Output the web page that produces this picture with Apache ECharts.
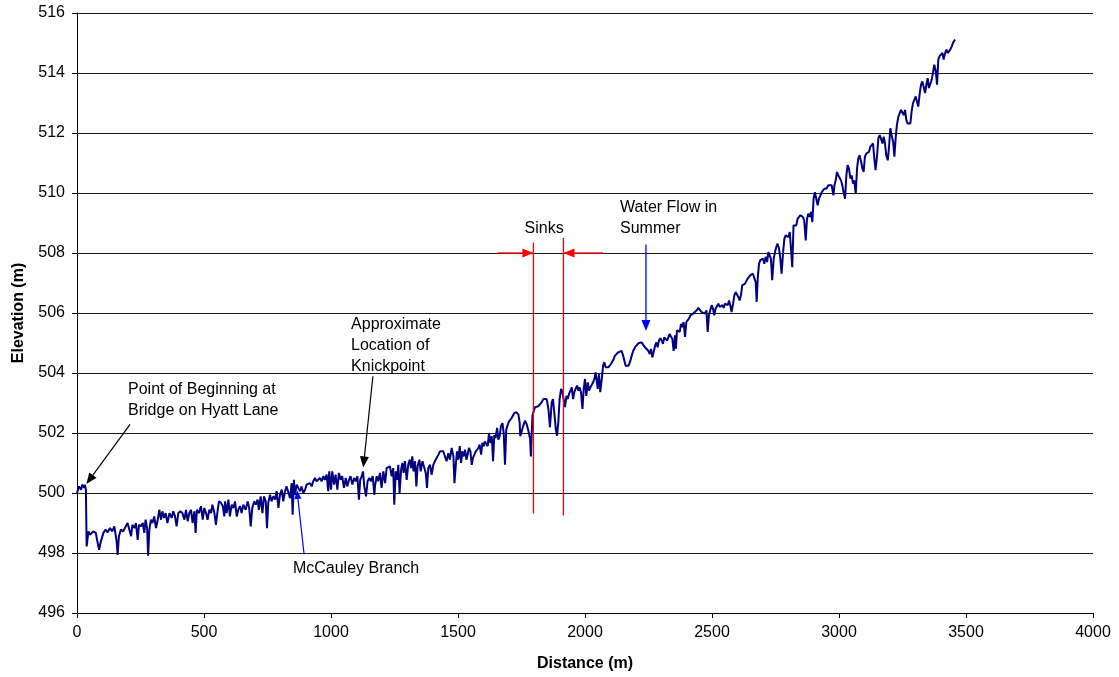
<!DOCTYPE html>
<html>
<head>
<meta charset="utf-8">
<script src="https://cdn.jsdelivr.net/npm/echarts@6/dist/echarts.min.js"></script>
<style>
html,body{margin:0;padding:0;background:#fff;}
#chart{width:1119px;height:677px;}
</style>
</head>
<body>
<div id="chart"></div>
<script>
// Stream profile: [distance (m), elevation (m)]
var profileA = [[0,500.00],[8,500.22],[16,500.11],[21,500.28],[28,500.17],[31,500.28],[35,500.11],[38,498.22],[45,498.72],[51,498.61],[64,498.72],[74,498.67],[79,498.44],[87,498.11],[94,498.39],[104,498.67],[113,498.78],[121,498.69],[130,498.83],[139,498.72],[147,498.89],[156,498.39],[160,497.94],[165,498.56],[173,498.78],[182,498.72],[192,498.89],[199,499.00],[205,499.06],[213,498.56],[218,498.94],[226,498.83],[232,499.00],[239,498.44],[244,498.94],[252,498.89],[259,499.00],[265,498.67],[270,499.11],[276,498.83],[280,497.91],[285,498.78],[291,499.11],[297,499.00],[304,499.22],[311,498.83],[318,499.11],[324,499.44],[331,499.11],[336,499.39],[343,499.17],[349,499.33],[356,499.00],[364,499.33],[373,499.17],[379,499.39],[386,499.22],[392,498.89],[399,499.33],[407,499.39],[415,499.33],[423,499.11],[429,499.44],[436,499.06],[442,499.33],[449,499.44],[455,499.00],[462,499.39],[467,498.67],[472,499.44],[480,499.33],[488,499.56],[495,499.11],[501,499.50],[508,499.33],[514,499.11],[521,499.44],[528,499.33],[533,499.61],[541,499.33],[547,498.94],[554,499.44],[559,499.72],[567,499.67],[574,499.56],[580,499.22]];
var profileB = [[583,499.72],[589,499.33],[596,499.78],[602,499.22],[609,499.61],[616,499.50],[622,499.72],[629,499.22],[635,499.44],[642,499.56],[648,499.33],[655,499.61],[664,499.44],[672,499.72],[678,499.50],[684,498.89],[690,499.50],[698,499.72],[704,499.61],[711,499.78],[716,499.44],[723,499.89],[730,499.33],[736,499.89],[743,499.72],[748,498.83],[753,499.67],[760,499.94],[766,499.72],[773,499.89],[780,499.78],[786,500.06],[793,499.50],[799,499.94],[806,500.11],[812,499.72],[819,500.06],[825,500.22],[832,500.17],[839,499.83],[845,500.33],[849,499.28],[854,500.44],[858,499.94],[865,500.28],[871,500.17],[878,500.06],[884,500.22],[891,500.00],[898,500.11],[904,500.28],[911,500.22],[917,500.33],[924,500.22],[930,500.39],[937,500.50],[943,500.39],[950,500.44],[957,500.50],[963,500.39],[970,500.56],[976,500.44],[983,500.61],[989,500.06],[993,500.72],[1000,500.11],[1005,500.72],[1012,500.28],[1018,500.61],[1025,500.11],[1031,500.67],[1038,500.44],[1044,500.56],[1051,500.17],[1058,500.50],[1064,500.22],[1071,500.44],[1077,500.56],[1084,500.28],[1091,500.50],[1097,500.39],[1104,500.56],[1110,499.78],[1115,500.44],[1121,500.56],[1126,500.72],[1131,500.22],[1138,499.89],[1144,500.39],[1151,500.50],[1157,500.39],[1164,500.56],[1171,499.94]];
var profileC = [[1173,500.22],[1180,500.56],[1186,500.39],[1193,500.67],[1199,500.17],[1206,500.72],[1213,500.33],[1219,500.83],[1226,500.78],[1232,500.89],[1239,500.56],[1245,500.83],[1249,499.61],[1255,500.72],[1260,500.44],[1265,500.94],[1270,500.00],[1276,500.78],[1281,501.00],[1286,500.67],[1291,501.06],[1298,500.44],[1304,500.94],[1310,501.11],[1315,500.83],[1320,501.22],[1325,500.72],[1331,501.06],[1336,500.22],[1341,500.89],[1348,501.11],[1353,500.72],[1360,501.06],[1366,501.00],[1373,500.67],[1378,500.17],[1383,500.83],[1390,500.94],[1396,500.61],[1403,500.94],[1409,501.06],[1416,501.11],[1423,501.28],[1429,501.39],[1436,501.44],[1442,501.39],[1449,501.33],[1455,501.06],[1462,501.33],[1468,501.11],[1475,501.50],[1482,501.22],[1486,500.33],[1491,500.89],[1496,501.39],[1501,501.11],[1507,501.56],[1512,501.00],[1517,501.39],[1522,501.22],[1528,501.44],[1533,501.11],[1538,501.28],[1543,501.50],[1549,501.39],[1554,500.94],[1559,501.17],[1564,501.11],[1570,501.39],[1575,501.33],[1580,501.50],[1585,501.61],[1591,501.28],[1596,501.67],[1601,501.56],[1606,501.72],[1612,501.78],[1617,501.56],[1622,502.00],[1627,501.67],[1633,501.89],[1638,501.06],[1643,501.94],[1648,501.83],[1654,502.17],[1659,501.78],[1664,501.89],[1669,502.22],[1675,502.33],[1680,502.00],[1685,500.94],[1690,502.11],[1696,502.28],[1701,502.39],[1706,502.33],[1711,502.50],[1716,502.56],[1722,502.67],[1730,502.69],[1738,502.61],[1743,502.33],[1745,501.89],[1751,501.83],[1756,502.22],[1761,502.28]];
var profileD = [[1764,502.41],[1770,502.30],[1777,502.08],[1784,501.80],[1787,501.22],[1793,502.58],[1798,502.58],[1803,502.86],[1810,502.82],[1816,502.89],[1823,502.86],[1829,503.02],[1836,503.13],[1843,503.19],[1849,503.13],[1856,502.80],[1862,502.19],[1869,503.02],[1874,503.13],[1879,502.69],[1885,502.13],[1890,501.91],[1895,502.36],[1900,503.13],[1906,503.47],[1911,503.36],[1916,503.30],[1921,502.86],[1927,503.24],[1932,503.13],[1937,503.30],[1942,503.24],[1948,503.52],[1953,503.13],[1958,503.36],[1963,503.47],[1969,503.58],[1974,503.41],[1979,503.52],[1984,503.36],[1990,502.80],[1995,503.47],[2000,503.80],[2005,503.24],[2011,503.69],[2016,503.41],[2021,503.52],[2026,503.47],[2032,503.69],[2037,503.80],[2042,504.02],[2046,504.08],[2050,503.47],[2055,503.97],[2060,503.36],[2066,503.80],[2071,504.24],[2076,504.36],[2081,504.19],[2087,504.13],[2092,504.19],[2097,504.24],[2102,504.30],[2108,504.36],[2113,504.47],[2118,504.58],[2125,504.63],[2131,504.69],[2138,504.71],[2144,504.74],[2150,504.58],[2155,504.41],[2160,504.24],[2165,504.19],[2171,504.24],[2177,504.36],[2184,504.58],[2190,504.74],[2197,504.86],[2203,504.91],[2210,504.99],[2217,505.04],[2223,505.02],[2230,504.93],[2236,504.86],[2243,504.80],[2249,504.74],[2255,504.63],[2260,504.80],[2265,504.52],[2270,504.69],[2276,504.91],[2281,505.02],[2286,504.86],[2291,505.08],[2297,505.16],[2302,505.08],[2307,504.97],[2312,505.19],[2318,505.24],[2323,505.08],[2328,505.19],[2333,505.30],[2339,505.24],[2344,505.13],[2349,504.74],[2352,504.91]];
var profileE = [[2354,505.26],[2358,504.81],[2362,505.42],[2367,505.48],[2373,505.37],[2378,505.64],[2383,505.53],[2388,505.70],[2394,505.20],[2399,505.70],[2404,505.64],[2409,505.81],[2415,505.92],[2420,505.87],[2426,505.98],[2433,506.03],[2440,506.09],[2446,506.17],[2453,506.12],[2459,506.03],[2466,506.06],[2472,505.98],[2478,506.09],[2483,505.37],[2488,505.92],[2493,506.09],[2499,506.26],[2504,506.14],[2509,505.92],[2514,506.14],[2520,506.20],[2525,506.31],[2530,506.20],[2535,506.14],[2541,506.26],[2546,506.17],[2551,506.31],[2556,506.37],[2562,506.26],[2567,506.42],[2572,506.26],[2577,506.03],[2583,506.31],[2588,506.59],[2593,506.70],[2598,506.64],[2604,506.53],[2609,506.42],[2614,506.59],[2619,506.92],[2625,506.87],[2630,506.98],[2635,506.92],[2640,507.14],[2646,507.20],[2651,507.26],[2656,507.20],[2661,507.31],[2667,507.26],[2672,507.03],[2676,506.37],[2680,507.14],[2685,507.64],[2690,507.76],[2696,507.70],[2701,507.81],[2706,507.64],[2711,507.87],[2717,507.70],[2722,508.03],[2727,507.98],[2732,507.81],[2737,507.09],[2743,507.81],[2748,508.03],[2753,508.20],[2758,508.31],[2764,508.14],[2769,507.81],[2774,507.31],[2780,508.03],[2785,508.48],[2790,508.59],[2795,508.64],[2801,508.53],[2806,508.70],[2811,508.14],[2816,507.53],[2821,508.92],[2827,508.98],[2832,508.92],[2837,509.14],[2842,509.09],[2848,509.26],[2853,509.31],[2858,509.20],[2863,509.09],[2869,508.42],[2874,509.14],[2879,509.31],[2884,509.20],[2890,509.37],[2895,509.03],[2900,509.81],[2905,510.03],[2911,509.98],[2916,509.59],[2921,509.81],[2927,509.92],[2932,510.03],[2937,510.09],[2942,510.14]];
var profileF = [[2945,510.09],[2951,510.15],[2958,510.26],[2965,510.31],[2971,510.26],[2978,509.92],[2982,510.26],[2987,510.42],[2992,510.70],[2997,510.59],[3003,510.54],[3008,510.42],[3013,510.26],[3018,510.03],[3024,509.81],[3029,510.59],[3034,510.93],[3039,510.82],[3045,510.48],[3050,510.59],[3055,510.31],[3060,510.42],[3066,509.98],[3071,510.82],[3076,511.15],[3081,511.26],[3087,511.04],[3092,510.82],[3097,510.70],[3102,511.21],[3108,511.32],[3113,511.26],[3118,511.37],[3123,511.54],[3129,511.60],[3134,511.65],[3139,511.15],[3144,510.76],[3150,511.26],[3155,511.82],[3160,511.93],[3165,511.82],[3171,511.65],[3176,511.88],[3181,511.65],[3186,511.26],[3192,511.09],[3197,511.54],[3202,512.16],[3207,511.93],[3213,511.71],[3218,511.21],[3223,511.82],[3228,512.27],[3234,512.55],[3239,512.66],[3244,512.77],[3249,512.72],[3255,512.60],[3260,512.77],[3265,512.44],[3270,512.32],[3276,512.38],[3281,512.32],[3286,512.72],[3291,512.99],[3297,513.11],[3302,513.22],[3307,513.05],[3312,512.88],[3318,513.33],[3323,513.61],[3328,513.72],[3333,513.55],[3339,513.33],[3344,513.61],[3349,513.83],[3354,513.50],[3360,513.44],[3365,513.78],[3370,514.00],[3375,514.28],[3381,514.06],[3386,513.61],[3391,514.45],[3396,514.56],[3402,514.61],[3407,514.67],[3412,514.45],[3417,514.64],[3423,514.78],[3428,514.67],[3433,514.61],[3438,514.78],[3444,514.89],[3449,515.01],[3454,515.06],[3457,515.12]];

var xTicks = [0, 500, 1000, 1500, 2000, 2500, 3000, 3500, 4000];
var yTicks = [496, 498, 500, 502, 504, 506, 508, 510, 512, 514, 516];
var sinkDistances = [1797, 1915];
var labelTexts = {
  start: ['Point of Beginning at', 'Bridge on Hyatt Lane'],
  knick: ['Approximate', 'Location of', 'Knickpoint'],
  branch: ['McCauley Branch'],
  sinks: ['Sinks'],
  flow: ['Water Flow in', 'Summer']
};
var xName = 'Distance (m)';
var yName = 'Elevation (m)';

var profile = [].concat(profileA, profileB, profileC, profileD, profileE, profileF);

var FONT = '"Liberation Sans", Arial, Helvetica, sans-serif';
var chart = echarts.init(document.getElementById('chart'));

chart.setOption({
  animation: false,
  backgroundColor: '#fff',
  grid: { left: 77, right: 26, top: 13, height: 600, containLabel: false },
  xAxis: {
    type: 'value', min: xTicks[0], max: xTicks[xTicks.length - 1], interval: 500,
    name: xName, nameLocation: 'middle', nameGap: 43,
    nameTextStyle: { fontFamily: FONT, fontSize: 16, fontWeight: 'bold', color: '#000' },
    axisLine: { show: true, onZero: false, lineStyle: { color: '#000', width: 1 } },
    axisTick: { show: true, inside: false, length: 5, lineStyle: { color: '#000' } },
    axisLabel: { fontFamily: FONT, fontSize: 16, color: '#000', margin: 12,
      formatter: function (v) { return String(v); } },
    splitLine: { show: false }
  },
  yAxis: {
    type: 'value', min: yTicks[0], max: yTicks[yTicks.length - 1], interval: 2,
    name: yName, nameLocation: 'middle', nameGap: 50, nameRotate: 90,
    nameTextStyle: { fontFamily: FONT, fontSize: 16, fontWeight: 'bold', color: '#000' },
    axisLine: { show: true, lineStyle: { color: '#000', width: 1 } },
    axisTick: { show: true, inside: false, length: 5, lineStyle: { color: '#000' } },
    axisLabel: { fontFamily: FONT, fontSize: 16, color: '#000', margin: 12,
      formatter: function (v) { return String(v); } },
    splitLine: { show: true, lineStyle: { color: '#1a1a1a', width: 1 } }
  },
  series: [
    {
      type: 'line', data: profile, showSymbol: false, symbol: 'none',
      lineStyle: { color: '#000080', width: 2 }, z: 3
    }
  ]
});

function px(pt) { return chart.convertToPixel({ gridIndex: 0 }, pt); }

// line from data point a to data point b, optional filled triangular head at b
function arrow(a, b, color, width, headLen, headWid) {
  var p1 = px(a), p2 = px(b);
  var out = [];
  var dx = p2[0] - p1[0], dy = p2[1] - p1[1];
  var len = Math.sqrt(dx * dx + dy * dy);
  var ux = dx / len, uy = dy / len;
  var end = p2;
  if (headLen) {
    end = [p2[0] - ux * headLen * 0.8, p2[1] - uy * headLen * 0.8];
    var bx = p2[0] - ux * headLen, by = p2[1] - uy * headLen;
    out.push({
      type: 'polygon', silent: true, z: 20,
      shape: { points: [[p2[0], p2[1]], [bx - uy * headWid / 2, by + ux * headWid / 2], [bx + uy * headWid / 2, by - ux * headWid / 2]] },
      style: { fill: color, stroke: null }
    });
  }
  out.unshift({
    type: 'line', silent: true, z: 19,
    shape: { x1: p1[0], y1: p1[1], x2: end[0], y2: end[1] },
    style: { stroke: color, lineWidth: width }
  });
  return out;
}

function textAt(lines, x, y, align) {
  var p = px([x, y]);
  return {
    type: 'text', x: p[0], y: p[1], silent: true, z: 21,
    style: {
      text: lines.join('\n'), font: '16px ' + FONT, fill: '#000',
      align: align || 'left', textAlign: align || 'left',
      verticalAlign: 'top', textVerticalAlign: 'top', lineHeight: 21
    }
  };
}

var g = [].concat(
  arrow([209, 502.29], [37, 500.30], '#000000', 1.2, 11, 9),
  arrow([1165, 503.89], [1127, 500.85], '#000000', 1.2, 11, 9),
  arrow([894, 497.96], [866, 500.10], '#0000ff', 1.2, 9, 7),
  arrow([1654, 508.0], [sinkDistances[0], 508.0], '#ff0000', 1.3, 11, 9),
  arrow([2071, 508.0], [sinkDistances[1], 508.0], '#ff0000', 1.3, 11, 9),
  arrow([sinkDistances[0], 508.35], [sinkDistances[0], 499.32], '#ff0000', 1.3, 0, 0),
  arrow([sinkDistances[1], 508.50], [sinkDistances[1], 499.25], '#ff0000', 1.3, 0, 0),
  arrow([2240, 508.28], [2240, 505.40], '#0000ff', 1.3, 11, 9),
  [
    textAt(labelTexts.start, 201, 503.79),
    textAt(labelTexts.knick, 1079, 505.95),
    textAt(labelTexts.branch, 850, 497.83),
    textAt(labelTexts.sinks, 1839, 509.16, 'center'),
    textAt(labelTexts.flow, 2138, 509.86)
  ]
);

chart.setOption({ graphic: g });
</script>
</body>
</html>
